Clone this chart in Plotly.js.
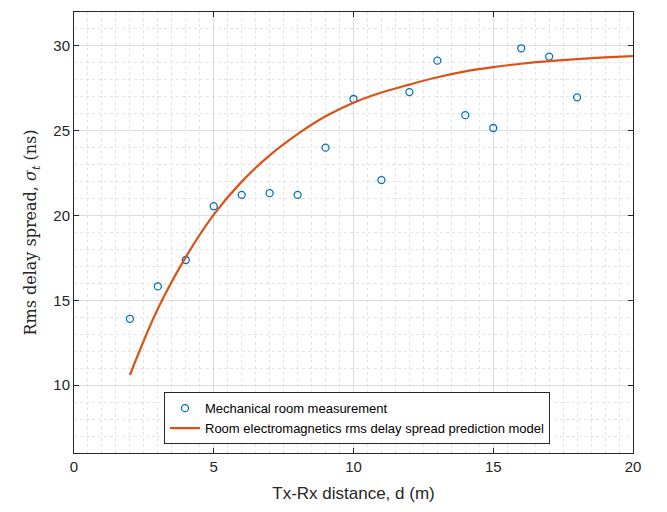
<!DOCTYPE html>
<html>
<head>
<meta charset="utf-8">
<script src="https://cdn.plot.ly/plotly-3.0.1.min.js"></script>
<style>html,body{margin:0;padding:0;background:#fff;}#chart{width:667px;height:512px;}</style>
</head>
<body>
<div id="chart"></div>
<script>
// Measured points
var measDistance = [2, 3, 4, 5, 6, 7, 8, 9, 10, 11, 12, 13, 14, 15, 16, 17, 18];
var measDelay = [13.91, 15.82, 17.38, 20.55, 21.22, 21.32, 21.22, 24.0, 26.87, 22.09, 27.28, 29.13, 25.92, 25.16, 29.86, 29.37, 26.97];
// Prediction model curve
var modelDistance = [2, 3, 4, 5, 6, 7, 8, 9, 10, 11, 12, 13, 14, 15, 16, 17, 18, 19, 20];
var modelDelay = [10.6, 14.5, 17.55, 20.05, 22.0, 23.55, 24.8, 25.85, 26.65, 27.25, 27.72, 28.15, 28.5, 28.75, 28.95, 29.1, 29.22, 29.32, 29.4];

var legendNames = ['Mechanical room measurement', 'Room electromagnetics rms delay spread prediction model'];

var gridCol = '#dcdcdc';
var axCol = '#262626';

var traces = [
  {x: measDistance, y: measDelay, type: 'scatter', mode: 'markers', name: legendNames[0],
   marker: {symbol: 'circle-open', size: 7, color: '#0072BD', line: {width: 1.3, color: '#0072BD'}}},
  {x: modelDistance, y: modelDelay, type: 'scatter', mode: 'lines', name: legendNames[1],
   line: {color: '#D95319', width: 2.2, shape: 'spline', smoothing: 1}}
];

var axisCommon = {
  showline: true, linecolor: axCol, linewidth: 1, mirror: 'ticks',
  ticks: 'inside', ticklen: 5, tickcolor: axCol, tickwidth: 1,
  showgrid: true, gridcolor: gridCol, gridwidth: 1, zeroline: false,
  tickfont: {family: 'Liberation Sans, Arial, sans-serif', size: 15, color: axCol}
};

var layout = {
  width: 667, height: 512,
  margin: {l: 74, r: 34, t: 12, b: 59},
  paper_bgcolor: '#ffffff', plot_bgcolor: '#ffffff',
  showlegend: true,
  xaxis: Object.assign({}, axisCommon, {
    range: [0, 20], tickvals: [0, 5, 10, 15, 20], ticktext: ['0', '5', '10', '15', '20'],
    minor: {dtick: 0.5, tick0: 0, showgrid: true, gridcolor: '#e3e3e3', griddash: 'dot', gridwidth: 1, ticks: ''},
    title: {text: 'Tx-Rx distance, d (m)', standoff: 13,
      font: {family: 'Liberation Sans, Arial, sans-serif', size: 17, color: axCol}}
  }),
  yaxis: Object.assign({}, axisCommon, {
    range: [6, 32], tickvals: [10, 15, 20, 25, 30], ticktext: ['10', '15', '20', '25', '30'],
    minor: {dtick: 1, tick0: 0, showgrid: true, gridcolor: '#e3e3e3', griddash: 'dot', gridwidth: 1, ticks: ''},
    title: {text: 'Rms delay spread, <i>σ</i><sub><i>t</i></sub> (ns)', standoff: 12,
      font: {family: 'DejaVu Serif, Liberation Serif, serif', size: 16, color: axCol}}
  }),
  legend: {
    x: 0.161, y: 0.02, xanchor: 'left', yanchor: 'bottom',
    bgcolor: '#ffffff', bordercolor: axCol, borderwidth: 1,
    font: {family: 'Liberation Sans, Arial, sans-serif', size: 13, color: '#000000'},
    itemwidth: 30, tracegroupgap: 0
  }
};

Plotly.newPlot('chart', traces, layout, {displayModeBar: false, staticPlot: true});
</script>
</body>
</html>
